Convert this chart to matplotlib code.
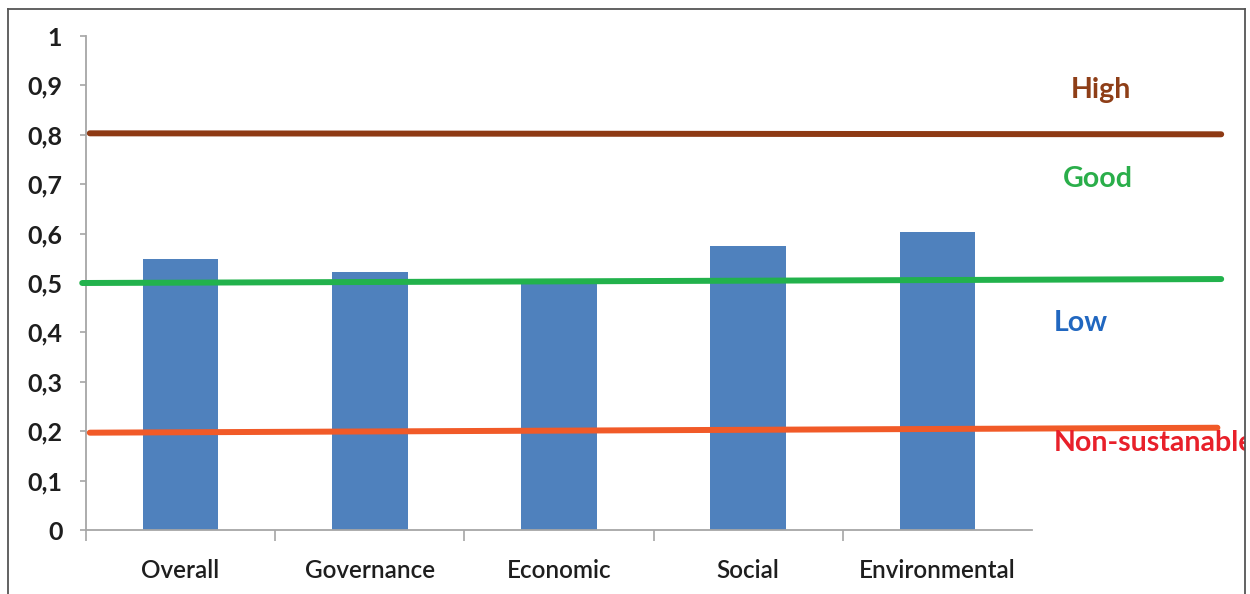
import matplotlib
matplotlib.use("Agg")
import matplotlib.pyplot as plt
from matplotlib.lines import Line2D
from matplotlib.ticker import FixedLocator, FixedFormatter

# data
categories = ["Overall", "Governance", "Economic", "Social", "Environmental"]
scores = [0.549, 0.523, 0.505, 0.575, 0.604]

# threshold lines (start / end x in category units, start / end value)
high_x = [-0.48, 5.50]
high_y = [0.803, 0.801]
good_x = [-0.52, 5.50]
good_y = [0.500, 0.508]
nonsus_x = [-0.48, 5.48]
nonsus_y = [0.197, 0.207]

zone_labels = ["High", "Good", "Low", "Non-sustanable"]
zone_label_x = [4.865, 4.85, 4.76, 4.616]
zone_label_y = [0.891, 0.711, 0.42, 0.176]

y_ticks = [0, 0.1, 0.2, 0.3, 0.4, 0.5, 0.6, 0.7, 0.8, 0.9, 1]
y_tick_labels = ["0", "0,1", "0,2", "0,3", "0,4", "0,5", "0,6", "0,7", "0,8", "0,9", "1"]

plt.rcParams['font.family'] = ['Lato', 'DejaVu Sans']

fig = plt.figure(figsize=(12.5, 5.94), dpi=100)
ax = fig.add_axes([86 / 1250, 64 / 594, 1159 / 1250, 494 / 594])

ax.bar(range(len(categories)), scores, width=0.40, color="#4F81BD", zorder=2)

ax.plot(high_x, high_y, color="#8E3A14", lw=4.3, solid_capstyle="round", zorder=3, clip_on=False)
ax.plot(good_x, good_y, color="#22B24C", lw=4.3, solid_capstyle="round", zorder=3, clip_on=False)
ax.plot(nonsus_x, nonsus_y, color="#F15A28", lw=4.3, solid_capstyle="round", zorder=3, clip_on=False)

# zone names; "Non-sustanable" runs past the frame and is cut off there, as in the original
label_colors = ["#8E3E17", "#2AAE4A", "#2167C0", "#E8202A"]
label_ha = ["center", "center", "center", "left"]
for txt, x, y, c, ha in zip(zone_labels, zone_label_x, zone_label_y, label_colors, label_ha):
    ax.text(x, y, txt, color=c, fontsize=20.5, fontweight="bold", ha=ha, va="center", clip_on=True)

ax.set_xlim(-0.5, -0.5 + 1159 / 189.2)
ax.set_ylim(0, 1)

# spines
for side in ["top", "right"]:
    ax.spines[side].set_visible(False)
for side in ["left", "bottom"]:
    ax.spines[side].set_color("#A6A6A6")
    ax.spines[side].set_linewidth(1.3)
ax.spines["bottom"].set_bounds(-0.5, len(categories) - 0.5)
ax.spines["left"].set_bounds(0, 1)

# y axis
ax.yaxis.set_major_locator(FixedLocator(y_ticks))
ax.yaxis.set_major_formatter(FixedFormatter(y_tick_labels))
ax.tick_params(axis="y", length=4, width=1.2, color="#A6A6A6", pad=13,
               labelsize=18, labelcolor="#1E1E1E")
for lab in ax.get_yticklabels():
    lab.set_fontweight("bold")

# x axis: labels centered, tick marks on category boundaries
ax.xaxis.set_major_locator(FixedLocator(list(range(len(categories)))))
ax.xaxis.set_major_formatter(FixedFormatter(categories))
ax.xaxis.set_minor_locator(FixedLocator([i - 0.5 for i in range(len(categories))]))
ax.tick_params(axis="x", which="major", length=0, pad=21, labelsize=17.5, labelcolor="#1E1E1E")
ax.tick_params(axis="x", which="minor", length=8, width=1.2, color="#A6A6A6")
for lab in ax.get_xticklabels():
    lab.set_fontweight("semibold")

# outer frame of the picture
frame_kw = dict(color="#555555", lw=1.3, transform=fig.transFigure)
fig.add_artist(Line2D([8 / 1250, 8 / 1250], [0, 1 - 9 / 594], **frame_kw))
fig.add_artist(Line2D([8 / 1250, 1245 / 1250], [1 - 9 / 594, 1 - 9 / 594], **frame_kw))
fig.add_artist(Line2D([1245 / 1250, 1245 / 1250], [0, 1 - 9 / 594], **frame_kw))

fig.savefig("out.png", dpi=100)
